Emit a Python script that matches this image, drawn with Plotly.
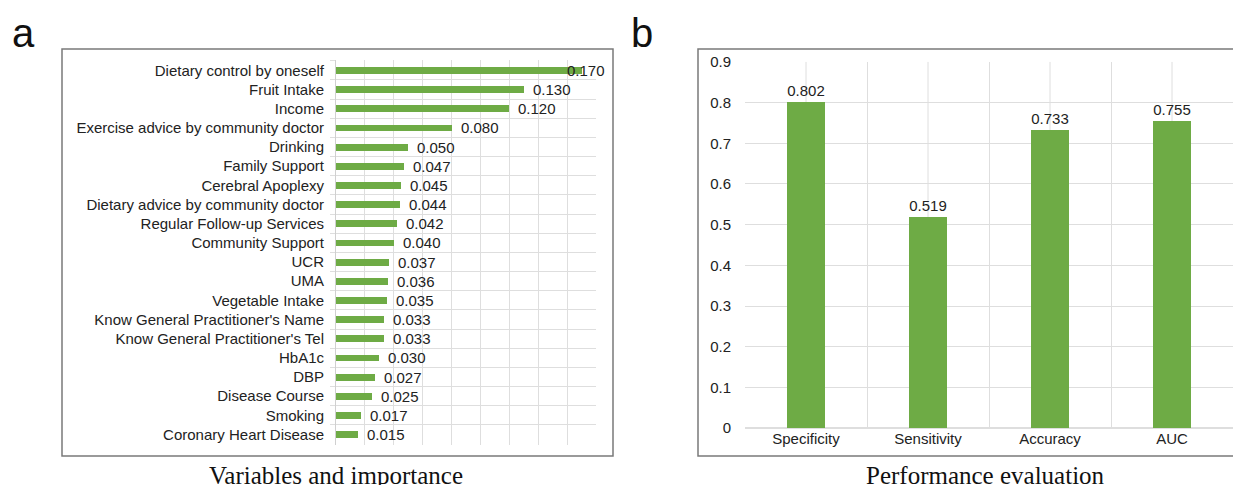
import plotly.graph_objects as go

# ---------------- data ----------------
variables = [
    "Dietary control by oneself", "Fruit Intake", "Income",
    "Exercise advice by community doctor", "Drinking", "Family Support",
    "Cerebral Apoplexy", "Dietary advice by community doctor",
    "Regular Follow-up Services", "Community Support", "UCR", "UMA",
    "Vegetable Intake", "Know General Practitioner's Name",
    "Know General Practitioner's Tel", "HbA1c", "DBP", "Disease Course",
    "Smoking", "Coronary Heart Disease",
]
importance = [0.170, 0.130, 0.120, 0.080, 0.050, 0.047, 0.045, 0.044, 0.042,
              0.040, 0.037, 0.036, 0.035, 0.033, 0.033, 0.030, 0.027, 0.025,
              0.017, 0.015]

metrics = ["Specificity", "Sensitivity", "Accuracy", "AUC"]
metric_values = [0.802, 0.519, 0.733, 0.755]

panel_letters = ["a", "b"]
captions = ["Variables and importance", "Performance evaluation"]

# ---------------- style ----------------
W, H = 1241, 485
GREEN = "#6EAB45"
GRID = "#DEDEDE"
TXT = "#222222"
BORDER = "#7A7A7A"
SANS = "Liberation Sans, Arial, sans-serif"
SERIF = "Liberation Serif, Times New Roman, serif"

# mapping from target-picture pixels to paper fractions
OX, OY, RW, RH = 8, 16, 1241, 469


def px_x(p):
    return (p - OX) / RW


def px_y(p):
    return 1 - (p - OY) / RH


fig = go.Figure()

# Panel a: horizontal bars
fig.add_trace(go.Bar(
    x=importance, y=variables, orientation="h",
    marker=dict(color=GREEN, line=dict(width=0)),
    width=0.35, xaxis="x", yaxis="y", hoverinfo="x+y",
))

# Panel b: vertical bars
fig.add_trace(go.Bar(
    x=metrics, y=metric_values,
    marker=dict(color=GREEN, line=dict(width=0)),
    width=0.31, xaxis="x2", yaxis="y2",
    text=[f"{v:.3f}" for v in metric_values], textposition="outside",
    constraintext="none", cliponaxis=False,
    textfont=dict(family=SANS, size=15, color=TXT),
))

fig.update_layout(
    width=W, height=H,
    margin=dict(l=0, r=0, t=0, b=0),
    paper_bgcolor="white", plot_bgcolor="white",
    showlegend=False,
    font=dict(family=SANS, color=TXT),
    xaxis=dict(
        domain=[px_x(336), px_x(596)], anchor="y",
        range=[0, 0.18], dtick=0.02, showticklabels=False,
        showgrid=True, gridcolor=GRID, gridwidth=1,
        zeroline=False, showline=False, fixedrange=True,
    ),
    yaxis=dict(
        domain=[px_y(445), px_y(59)], anchor="x",
        type="category", autorange="reversed",
        tickson="boundaries", ticks="outside", ticklen=5, tickcolor=GRID,
        showgrid=True, gridcolor=GRID, gridwidth=1,
        showline=True, linecolor="#D0D0D0", linewidth=1,
        tickfont=dict(family=SANS, size=15, color=TXT),
        ticklabelstandoff=8, fixedrange=True,
    ),
    xaxis2=dict(
        domain=[px_x(745), px_x(1233)], anchor="y2",
        type="category", tickson="boundaries", ticks="",
        showgrid=True, gridcolor=GRID, gridwidth=1,
        showline=False, zeroline=False,
        tickfont=dict(family=SANS, size=15, color=TXT),
        fixedrange=True,
    ),
    yaxis2=dict(
        domain=[px_y(428), px_y(61)], anchor="x2",
        range=[0, 0.9], dtick=0.1, tick0=0,
        showgrid=True, gridcolor=GRID, gridwidth=1,
        zeroline=True, zerolinecolor=GRID, showline=False,
        tickfont=dict(family=SANS, size=15, color=TXT),
        ticklabelstandoff=13, fixedrange=True,
    ),
    bargap=0,
)

shapes = []
# panel borders
shapes.append(dict(type="rect", xref="paper", yref="paper",
                   x0=px_x(62), x1=px_x(613), y0=px_y(456), y1=px_y(48),
                   line=dict(color=BORDER, width=1.5), layer="below"))
shapes.append(dict(type="rect", xref="paper", yref="paper",
                   x0=px_x(698), x1=px_x(1245), y0=px_y(456), y1=px_y(48),
                   line=dict(color=BORDER, width=1.5), layer="below"))
# vertical grid lines through category centres in panel b
for m in metrics:
    shapes.append(dict(type="line", xref="x2", yref="y2 domain",
                       x0=m, x1=m, y0=0, y1=1,
                       line=dict(color=GRID, width=1), layer="below"))
fig.update_layout(shapes=shapes)

annotations = []
# value labels for panel a (kept inside the panel like the original)
for v, name in zip(importance, variables):
    annotations.append(dict(
        x=min(v, 0.154), y=name, xref="x", yref="y",
        text=f"{v:.3f}", showarrow=False, xanchor="left", xshift=7,
        font=dict(family=SANS, size=15, color=TXT),
    ))
# panel letters
for letter, xp in zip(panel_letters, [10, 629]):
    annotations.append(dict(
        x=px_x(xp), y=1.0, xref="paper", yref="paper",
        text=letter, showarrow=False, xanchor="left", yanchor="top",
        yshift=8,
        font=dict(family=SANS, size=40, color="#111111"),
    ))
# captions
for cap, xc in zip(captions, [336, 985]):
    annotations.append(dict(
        x=px_x(xc), y=px_y(475), xref="paper", yref="paper",
        text=cap, showarrow=False, xanchor="center", yanchor="middle",
        font=dict(family=SERIF, size=25, color="#111111"),
    ))
fig.update_layout(annotations=annotations)

fig.write_html("out.html")
